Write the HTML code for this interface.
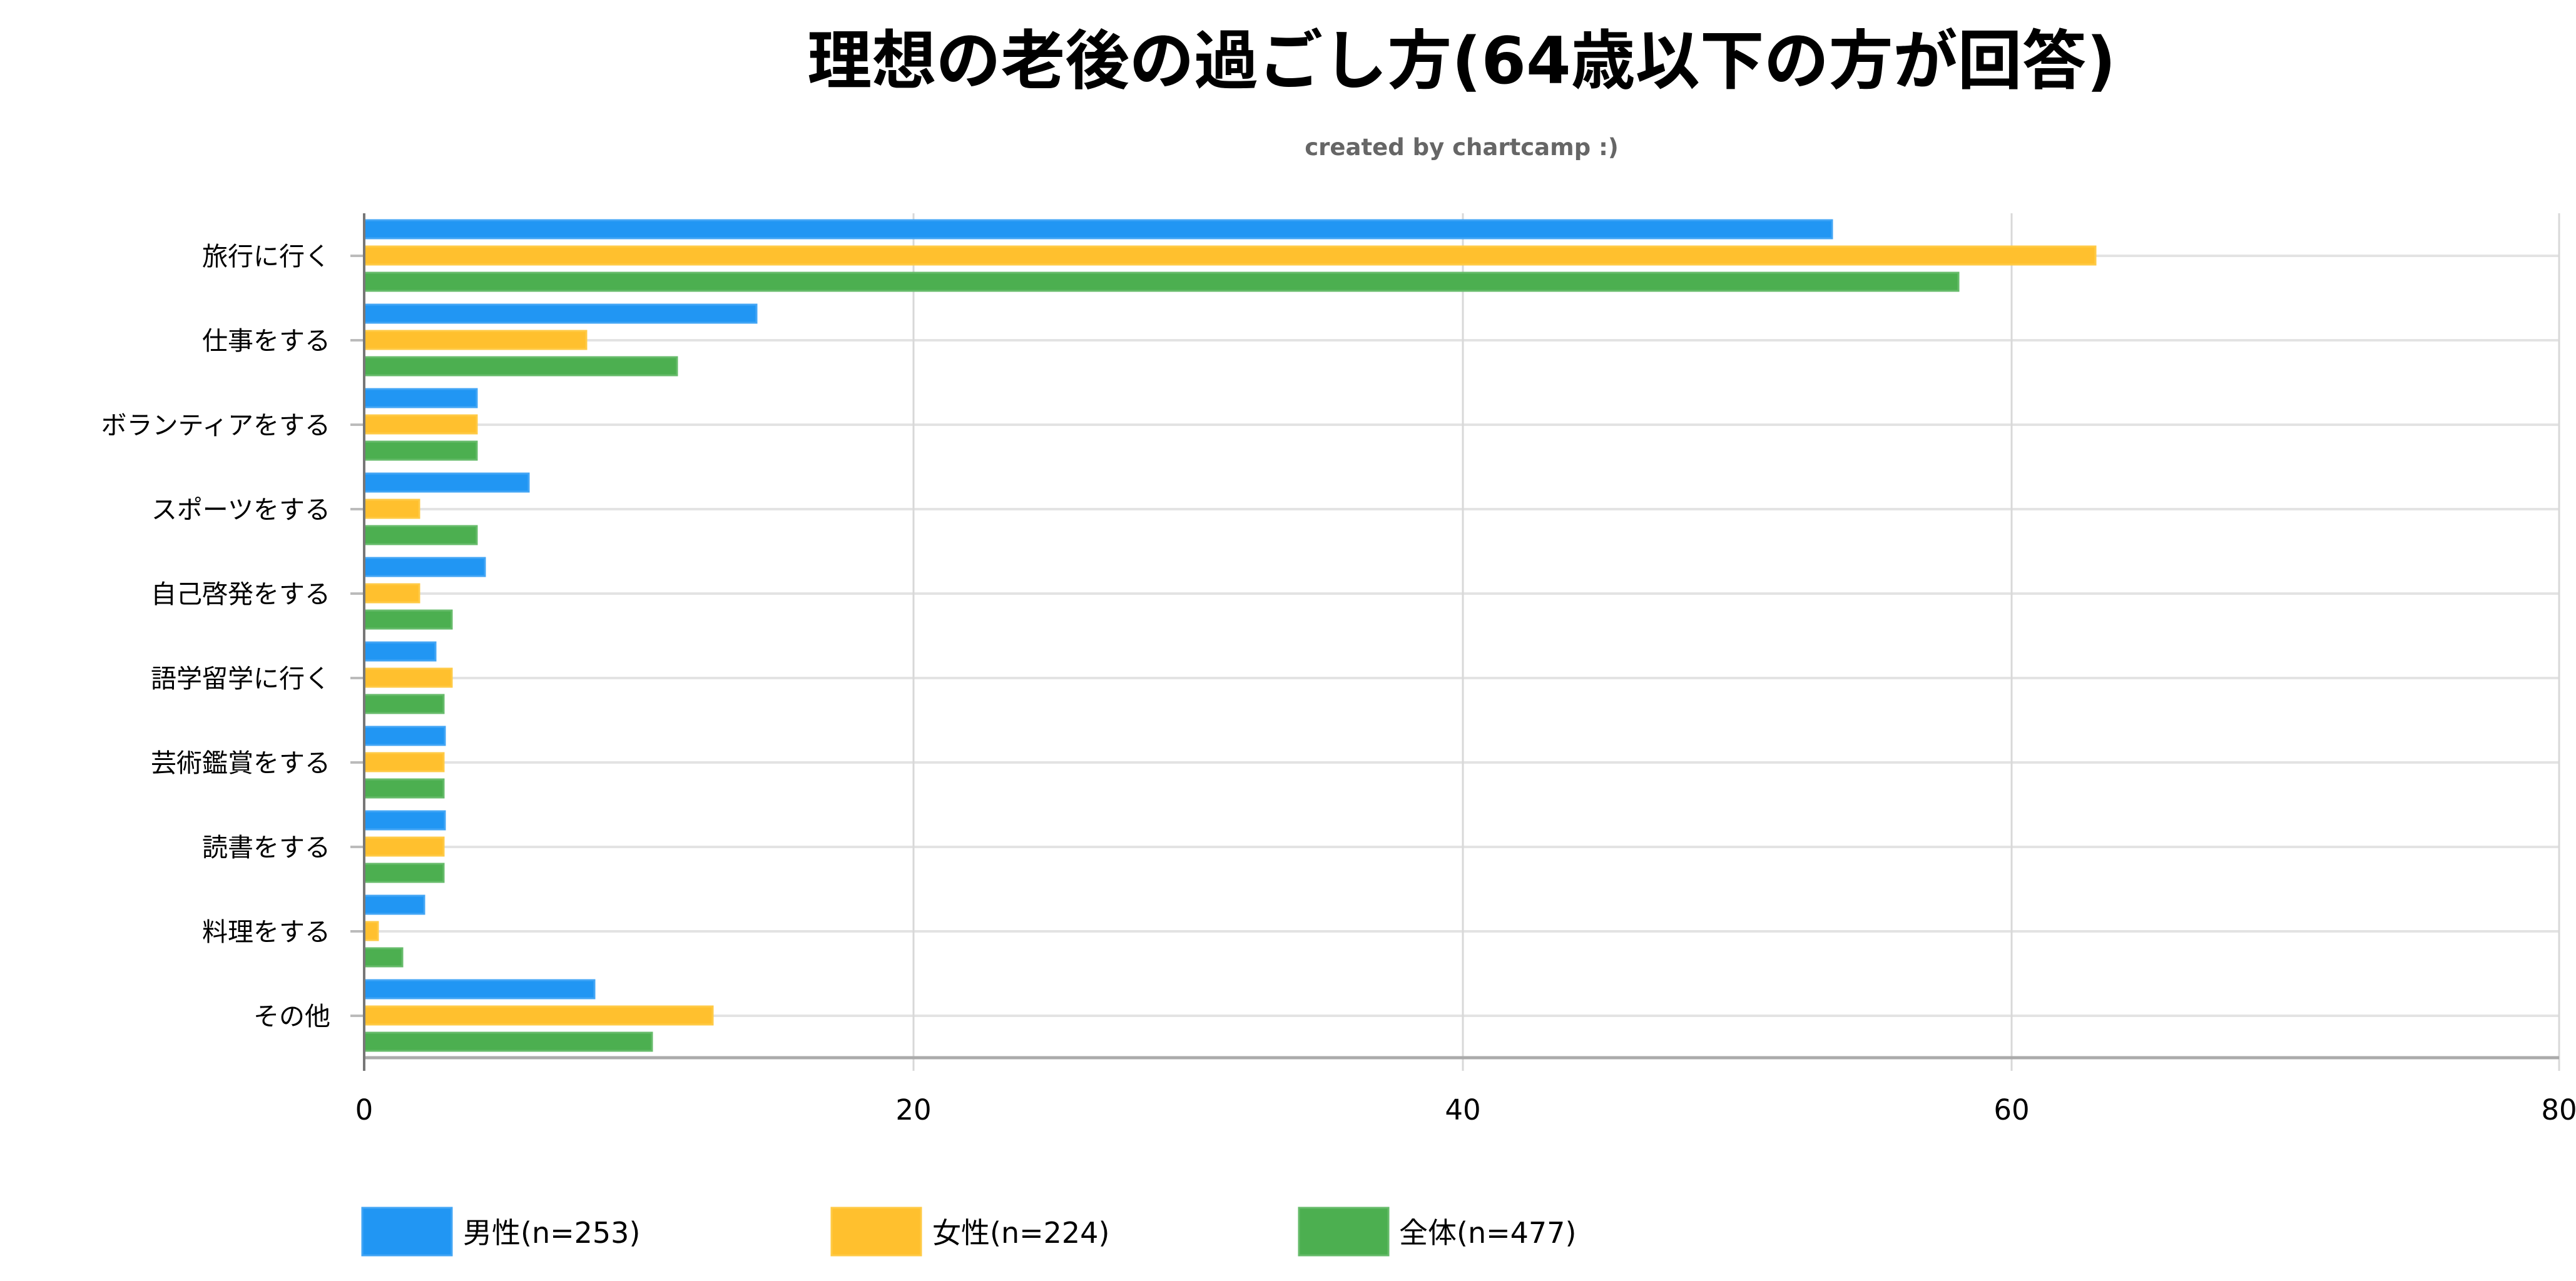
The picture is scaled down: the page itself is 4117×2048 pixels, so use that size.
<!DOCTYPE html>
<html><head><meta charset="utf-8"><style>
html,body{margin:0;padding:0;background:#fff;}
svg{display:block;font-family:"DejaVu Sans","Liberation Sans","Noto Sans CJK JP",sans-serif;}
</style></head><body>
<svg width="4117" height="2048" viewBox="0 0 4117 2048" xmlns="http://www.w3.org/2000/svg">
<text x="2336" y="133" text-anchor="middle" font-size="103" font-weight="bold" fill="#000">理想の老後の過ごし方(64歳以下の方が回答)</text>
<text x="2336" y="248" text-anchor="middle" font-size="37" font-weight="bold" fill="#666">created by chartcamp :)</text>
<g stroke="#e3e3e3" stroke-width="4">
<line x1="582" y1="409" x2="4090" y2="409"/><line x1="582" y1="544" x2="4090" y2="544"/>
<line x1="582" y1="679" x2="4090" y2="679"/><line x1="582" y1="814" x2="4090" y2="814"/>
<line x1="582" y1="949" x2="4090" y2="949"/><line x1="582" y1="1084" x2="4090" y2="1084"/>
<line x1="582" y1="1219" x2="4090" y2="1219"/><line x1="582" y1="1354" x2="4090" y2="1354"/>
<line x1="582" y1="1489" x2="4090" y2="1489"/><line x1="582" y1="1624" x2="4090" y2="1624"/>
</g>
<g stroke="#bbb" stroke-width="4">
<line x1="560" y1="409" x2="582" y2="409"/><line x1="560" y1="544" x2="582" y2="544"/>
<line x1="560" y1="679" x2="582" y2="679"/><line x1="560" y1="814" x2="582" y2="814"/>
<line x1="560" y1="949" x2="582" y2="949"/><line x1="560" y1="1084" x2="582" y2="1084"/>
<line x1="560" y1="1219" x2="582" y2="1219"/><line x1="560" y1="1354" x2="582" y2="1354"/>
<line x1="560" y1="1489" x2="582" y2="1489"/><line x1="560" y1="1624" x2="582" y2="1624"/>
</g>
<g stroke="#d8d8d8" stroke-width="3">
<line x1="1460" y1="341" x2="1460" y2="1712"/><line x1="2338" y1="341" x2="2338" y2="1712"/>
<line x1="3215" y1="341" x2="3215" y2="1712"/><line x1="4090" y1="341" x2="4090" y2="1712"/>
</g>
<line x1="582" y1="1691" x2="4090" y2="1691" stroke="#aaa" stroke-width="5"/>
<g fill="#2196F3" stroke="#42A5F5" stroke-width="3">
<rect x="582" y="352" width="2346" height="29"/>
<rect x="582" y="487" width="627" height="29"/>
<rect x="582" y="622" width="180" height="29"/>
<rect x="582" y="757" width="263" height="29"/>
<rect x="582" y="892" width="193" height="29"/>
<rect x="582" y="1027" width="114" height="29"/>
<rect x="582" y="1162" width="129" height="29"/>
<rect x="582" y="1297" width="129" height="29"/>
<rect x="582" y="1432" width="96" height="29"/>
<rect x="582" y="1567" width="368" height="29"/>
</g>
<g fill="#FFC02E" stroke="#FFCA45" stroke-width="3">
<rect x="582" y="394" width="2767" height="29"/>
<rect x="582" y="529" width="355" height="29"/>
<rect x="582" y="664" width="180" height="29"/>
<rect x="582" y="799" width="88" height="29"/>
<rect x="582" y="934" width="88" height="29"/>
<rect x="582" y="1069" width="140" height="29"/>
<rect x="582" y="1204" width="127" height="29"/>
<rect x="582" y="1339" width="127" height="29"/>
<rect x="582" y="1474" width="22" height="29"/>
<rect x="582" y="1609" width="557" height="29"/>
</g>
<g fill="#4CAF50" stroke="#66BB6A" stroke-width="3">
<rect x="582" y="436" width="2548" height="29"/>
<rect x="582" y="571" width="500" height="29"/>
<rect x="582" y="706" width="180" height="29"/>
<rect x="582" y="841" width="180" height="29"/>
<rect x="582" y="976" width="140" height="29"/>
<rect x="582" y="1111" width="127" height="29"/>
<rect x="582" y="1246" width="127" height="29"/>
<rect x="582" y="1381" width="127" height="29"/>
<rect x="582" y="1516" width="61" height="29"/>
<rect x="582" y="1651" width="460" height="29"/>
</g>
<line x1="582" y1="341" x2="582" y2="1712" stroke="#777" stroke-width="4"/>
<g font-size="41" fill="#000" text-anchor="end">
<text x="528" y="424">旅行に行く</text><text x="528" y="559">仕事をする</text>
<text x="528" y="694">ボランティアをする</text><text x="528" y="829">スポーツをする</text>
<text x="528" y="964">自己啓発をする</text><text x="528" y="1099">語学留学に行く</text>
<text x="528" y="1234">芸術鑑賞をする</text><text x="528" y="1369">読書をする</text>
<text x="528" y="1504">料理をする</text><text x="528" y="1639">その他</text>
</g>
<g font-size="45" fill="#000" text-anchor="middle">
<text x="582" y="1790">0</text><text x="1460" y="1790">20</text><text x="2338" y="1790">40</text>
<text x="3215" y="1790">60</text><text x="4090" y="1790">80</text>
</g>
<rect x="579" y="1931" width="143" height="76" fill="#2196F3" stroke="#42A5F5" stroke-width="3"/>
<rect x="1329" y="1931" width="143" height="76" fill="#FFC02E" stroke="#FFCA45" stroke-width="3"/>
<rect x="2076" y="1931" width="143" height="76" fill="#4CAF50" stroke="#66BB6A" stroke-width="3"/>
<g font-size="46" fill="#000">
<text x="740" y="1987">男性(n=253)</text><text x="1490" y="1987">女性(n=224)</text><text x="2236" y="1987">全体(n=477)</text>
</g>
</svg>
</body></html>
